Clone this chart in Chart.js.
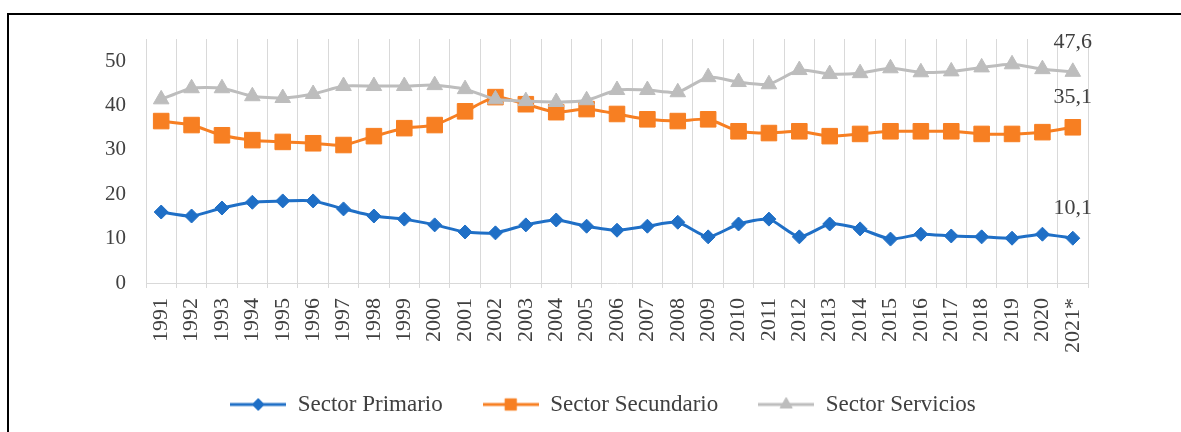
<!DOCTYPE html>
<html>
<head>
<meta charset="utf-8">
<script src="https://cdn.jsdelivr.net/npm/chart.js@4.4.0/dist/chart.umd.min.js"></script>
<style>
  html, body { margin: 0; padding: 0; background: #fff; }
  #wrap { position: relative; width: 1181px; height: 432px; overflow: hidden; }
  #frame {
    position: absolute; left: 7px; top: 13px; width: 1300px; height: 500px;
    border-left: 2px solid #000; border-top: 2px solid #000; pointer-events: none;
  }
</style>
</head>
<body>
<div id="wrap">
  <canvas id="sectorChart" width="1181" height="432"></canvas>
  <div id="frame"></div>
</div>
<script>
const years = [
  "1991", "1992", "1993", "1994", "1995", "1996", "1997", "1998", "1999", "2000",
  "2001", "2002", "2003", "2004", "2005", "2006", "2007", "2008", "2009", "2010",
  "2011", "2012", "2013", "2014", "2015", "2016", "2017", "2018", "2019", "2020", "2021*"
];
const sectorPrimario = [
  16.0, 15.1, 16.9, 18.2, 18.5, 18.5, 16.7, 15.1, 14.4, 13.1,
  11.5, 11.3, 13.1, 14.2, 12.8, 11.9, 12.8, 13.7, 10.4, 13.3,
  14.4, 10.4, 13.3, 12.2, 9.9, 11.0, 10.6, 10.4, 10.1, 11.0, 10.1
];
const sectorSecundario = [
  36.5, 35.6, 33.3, 32.2, 31.8, 31.5, 31.1, 33.1, 34.9, 35.6,
  38.7, 41.9, 40.3, 38.5, 39.2, 38.1, 36.9, 36.5, 36.9, 34.2,
  33.8, 34.2, 33.1, 33.6, 34.2, 34.2, 34.2, 33.6, 33.6, 34.0, 35.1
];
const sectorServicios = [
  41.4, 43.9, 43.9, 42.1, 41.7, 42.6, 44.4, 44.4, 44.4, 44.6,
  43.7, 41.4, 41.0, 40.8, 41.2, 43.5, 43.5, 43.0, 46.4, 45.3,
  44.8, 48.0, 47.1, 47.3, 48.4, 47.5, 47.7, 48.6, 49.3, 48.2, 47.6
];
const yTicks = [0, 10, 20, 30, 40, 50];

const FONT = '"Liberation Serif", "Times New Roman", serif';
const TEXT = "#404040";

// small line + marker picture used as legend symbol
function legendIcon(color, style, radius) {
  const c = document.createElement("canvas");
  c.width = 56;
  c.height = 24;
  const ctx = c.getContext("2d");
  ctx.strokeStyle = color;
  ctx.lineWidth = 3;
  ctx.beginPath();
  ctx.moveTo(0, 12);
  ctx.lineTo(56, 12);
  ctx.stroke();
  ctx.fillStyle = color;
  ctx.lineWidth = 1;
  Chart.helpers.drawPoint(ctx, { pointStyle: style, radius: radius, rotation: 0, borderWidth: 1 }, 28, 12);
  return c;
}

// value label over the last point of every series
const lastValueLabels = {
  id: "lastValueLabels",
  afterLayout(chart) {
    // legend sits a bit right of the canvas centre in the original
    chart.legend.left += 49;
    chart.legend.right += 49;
  },
  afterDatasetsDraw(chart) {
    const ctx = chart.ctx;
    ctx.save();
    ctx.font = "22px " + FONT;
    ctx.fillStyle = TEXT;
    ctx.textAlign = "center";
    ctx.textBaseline = "middle";
    chart.data.datasets.forEach((ds, i) => {
      const pts = chart.getDatasetMeta(i).data;
      const last = pts[pts.length - 1];
      const v = ds.data[ds.data.length - 1];
      ctx.fillText(v.toFixed(1).replace(".", ","), last.x, last.y - 30);
    });
    ctx.restore();
  },
};

const series = [
  { label: "Sector Primario", data: sectorPrimario, color: "#1f6fc6", style: "rectRot", radius: 7, legendRadius: 6, order: 3 },
  { label: "Sector Secundario", data: sectorSecundario, color: "#f77f22", style: "rect", radius: 11, legendRadius: 8, order: 2 },
  { label: "Sector Servicios", data: sectorServicios, color: "#bdbdbd", style: "triangle", radius: 9, legendRadius: 7, order: 1 },
];

new Chart(document.getElementById("sectorChart"), {
  type: "line",
  data: {
    labels: years,
    datasets: series.map((s) => ({
      label: s.label,
      data: s.data,
      order: s.order,
      borderColor: s.color,
      backgroundColor: s.color,
      borderWidth: 3,
      pointStyle: s.style,
      pointRadius: s.radius,
      pointBorderWidth: 1,
      pointBackgroundColor: s.color,
      pointBorderColor: s.color,
      tension: 0.2,
      fill: false,
    })),
  },
  options: {
    responsive: false,
    animation: false,
    devicePixelRatio: 1,
    layout: { padding: { left: 20, right: 93, top: 39, bottom: 6 } },
    plugins: {
      tooltip: { enabled: false },
      legend: {
        position: "bottom",
        labels: {
          usePointStyle: true,
          pointStyleWidth: 56,
          padding: 40,
          color: TEXT,
          font: { family: FONT, size: 23 },
          generateLabels: (chart) =>
            series.map((s, i) => ({
              text: s.label,
              pointStyle: legendIcon(s.color, s.style, s.legendRadius),
              fillStyle: s.color,
              strokeStyle: s.color,
              fontColor: TEXT,
              lineWidth: 0,
              hidden: false,
              datasetIndex: i,
            })),
        },
      },
    },
    scales: {
      x: {
        offset: true,
        grid: { display: true, offset: true, color: "#d9d9d9", lineWidth: 1, drawTicks: true, tickLength: 5, tickColor: "#d9d9d9" },
        border: { display: true, color: "#d9d9d9", width: 1 },
        ticks: {
          autoSkip: false,
          minRotation: 90,
          maxRotation: 90,
          padding: 10,
          color: TEXT,
          font: { family: FONT, size: 22 },
        },
        afterFit: (scale) => { scale.height = 70; },
      },
      y: {
        min: 0,
        max: 55,
        grid: { display: false, drawTicks: false },
        border: { display: false },
        ticks: { stepSize: 10, padding: 20, color: TEXT, font: { family: FONT, size: 21 } },
        afterBuildTicks: (scale) => {
          scale.ticks = yTicks.map((v) => ({ value: v }));
        },
        afterFit: (scale) => { scale.width = 126; },
      },
    },
  },
  plugins: [lastValueLabels],
});
</script>
</body>
</html>
